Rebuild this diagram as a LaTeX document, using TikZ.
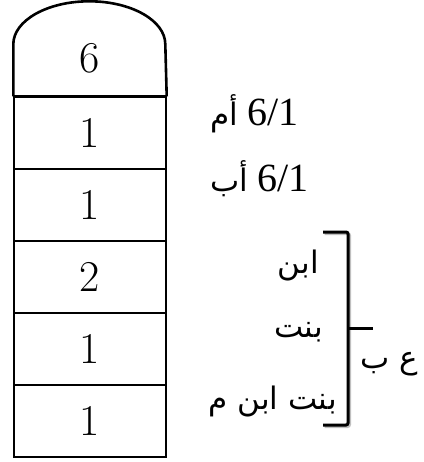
\documentclass[tikz,border=0pt]{standalone}
\usepackage{fontspec}
\newfontfamily\arabicfont[Script=Arabic]{DejaVu Sans}
\newfontfamily\labelfont{Liberation Serif}
\TeXXeTstate=1
\begin{document}
\begin{tikzpicture}[x=1pt,y=-1pt,
  cell/.style={draw,line width=1.4pt,minimum width=152pt,minimum height=72pt,inner sep=0pt,font=\fontsize{44}{48}\selectfont},
  lab/.style={anchor=base west,inner sep=0pt},
  arlab/.style={anchor=base east,inner sep=0pt,font=\arabicfont\fontsize{31}{36}\selectfont},
  brace/.style={line width=3pt,rounded corners=2pt}]
\useasboundingbox (0,0) rectangle (423,462);
% table cells
\node[cell] (c1) at (90,133) {1};
\node[cell] (c2) at (90,205) {1};
\node[cell] (c3) at (90,277) {2};
\node[cell] (c4) at (90,349) {1};
\node[cell] (c5) at (90,421) {1};
% dome
\draw[line width=2.6pt] (c1.north west) -- ++(0,-52) arc[start angle=180,end angle=0,x radius=76pt,y radius=43pt] -- (c1.north east);
\draw[line width=3pt] (c1.north west) -- (c1.north east);
\node[inner sep=0pt,font=\fontsize{44}{48}\selectfont] (top) at (90,58) {6};
% right labels
\node[lab] (m) at (210,126) {{\arabicfont\fontsize{31}{36}\selectfont\beginR أم\endR}\hspace{9pt}{\labelfont\fontsize{40}{44}\selectfont 6/1}};
\node[lab] (b) at (210,191) {{\arabicfont\fontsize{31}{36}\selectfont\beginR أب\endR}\hspace{9pt}{\labelfont\fontsize{40}{44}\selectfont 6/1}};
\node[arlab] (son) at (319,273) {\beginR ابن\endR};
\node[arlab] (dau) at (323,337) {\beginR بنت\endR};
\node[arlab] (gd) at (337,409) {\beginR بنت ابن م\endR};
\node[arlab] (asaba) at (418,368) {\beginR ع ب\endR};
% bracket
\coordinate (bt) at (323,232);
\coordinate (bb) at (323,425);
\coordinate (bm) at (348,328);
\coordinate (bx) at (373,328);
\draw[brace,gray!50] ([shift={(1.5,1.5)}]bt) -| ([shift={(1.5,1.5)}]bm) |- ([shift={(1.5,1.5)}]bb);
\draw[brace] (bt) -| (bm) |- (bb);
\draw[brace] (bm) -- (bx);
\end{tikzpicture}
\end{document}
